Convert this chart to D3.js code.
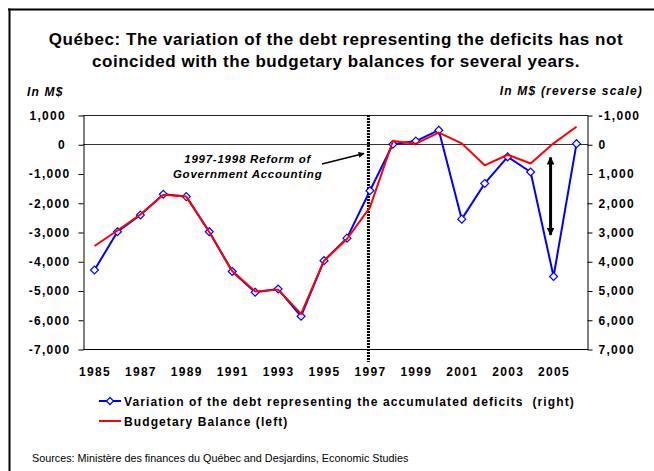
<!DOCTYPE html>
<html>
<head>
<meta charset="utf-8">
<script src="https://cdn.jsdelivr.net/npm/d3@7"></script>
<style>
  html, body { margin: 0; padding: 0; background: #fff; }
  svg { display: block; font-family: Arial, "Liberation Sans", sans-serif; }
</style>
</head>
<body>
<svg id="chart" width="654" height="471"></svg>
<script>
// ---- Data ----
const years = [1985,1986,1987,1988,1989,1990,1991,1992,1993,1994,1995,1996,1997,1998,1999,2000,2001,2002,2003,2004,2005,2006];
// Variation of the debt representing the accumulated deficits (right axis, reverse scale), M$
const debtVariation = [4300,2990,2420,1710,1790,2990,4350,5060,4950,5880,3980,3210,1590,0,-110,-480,2560,1340,430,950,4520,-20];
// Budgetary balance (left axis), M$
const budgetBalance = [-3480,-2950,-2400,-1730,-1790,-3000,-4330,-5030,-4970,-5800,-3980,-3240,-2160,110,20,400,30,-720,-360,-660,30,600];
const leftTicks = [1000,0,-1000,-2000,-3000,-4000,-5000,-6000,-7000];
const rightTicks = [-1000,0,1000,2000,3000,4000,5000,6000,7000];
const xTickYears = [1985,1987,1989,1991,1993,1995,1997,1999,2001,2003,2005];
const titleLines = ["Québec: The variation of the debt representing the deficits has not",
                    "coincided with the budgetary balances for several years."];
const legendLabels = ["Variation of the debt representing the accumulated deficits  (right)",
                      "Budgetary Balance (left)"];
const annotationLines = ["1997-1998 Reform of", "Government Accounting"];
const sourceText = "Sources: Ministère des finances du Québec and Desjardins, Economic Studies";

// ---- Layout ----
const svg = d3.select("#chart");
const plot = {left: 83, right: 588, top: 115, bottom: 349};
const blue = "#0000FF", red = "#FF0000";
const fmt = v => d3.format(",")(v).replace("\u2212", "-");
const ls = "1.3px";

const x = d3.scalePoint().domain(years).range([plot.left, plot.right]).padding(0.5);
const yL = d3.scaleLinear().domain([-7000, 1000]).range([plot.bottom, plot.top]);
const yR = d3.scaleLinear().domain([7000, -1000]).range([plot.bottom, plot.top]);

// frame
svg.append("line").attr("x1", 8).attr("x2", 654).attr("y1", 9.5).attr("y2", 9.5)
  .attr("stroke", "#000").attr("stroke-width", 2);
svg.append("line").attr("x1", 9.5).attr("x2", 9.5).attr("y1", 8.5).attr("y2", 471)
  .attr("stroke", "#000").attr("stroke-width", 2);

// title
svg.append("g").selectAll("text").data(titleLines).join("text")
  .attr("x", 336).attr("y", (d, i) => 45 + i * 21.5)
  .attr("text-anchor", "middle").attr("font-size", 17).attr("font-weight", "bold")
  .attr("letter-spacing", "0.55px")
  .text(d => d);

// axis unit labels
svg.append("text").attr("x", 27).attr("y", 96).attr("font-size", 12)
  .attr("font-weight", "bold").attr("font-style", "italic").attr("letter-spacing", "1.2px").text("In M$");
svg.append("text").attr("x", 643).attr("y", 95).attr("text-anchor", "end").attr("font-size", 12)
  .attr("font-weight", "bold").attr("font-style", "italic").attr("letter-spacing", "1.2px").text("In M$ (reverse scale)");

// plot top / bottom borders
svg.append("line").attr("x1", plot.left).attr("x2", plot.right).attr("y1", plot.top + 0.5).attr("y2", plot.top + 0.5)
  .attr("stroke", "#222").attr("stroke-width", 1);
svg.append("line").attr("x1", plot.left).attr("x2", plot.right).attr("y1", plot.bottom + 0.5).attr("y2", plot.bottom + 0.5)
  .attr("stroke", "#000").attr("stroke-width", 1);
// zero line
svg.append("line").attr("x1", plot.left).attr("x2", plot.right)
  .attr("y1", Math.round(yL(0)) + 0.5).attr("y2", Math.round(yL(0)) + 0.5)
  .attr("stroke", "#333").attr("stroke-width", 1);

// left axis
const gL = svg.append("g").attr("transform", `translate(${plot.left + 0.5},0.5)`)
  .call(d3.axisLeft(yL).tickValues(leftTicks).tickSize(5).tickSizeOuter(0).tickPadding(8).tickFormat(fmt));
gL.selectAll("text").attr("font-size", 12).attr("font-weight", "bold").attr("fill", "#000")
  .attr("font-family", "Arial, 'Liberation Sans', sans-serif").attr("letter-spacing", ls)
  .attr("dx", d => d >= 0 ? -4.5 : 0);
gL.selectAll("path, line").attr("stroke", "#000");

// right axis
const gR = svg.append("g").attr("transform", `translate(${plot.right - 0.5},0.5)`)
  .call(d3.axisRight(yR).tickValues(rightTicks).tickSize(5).tickSizeOuter(0).tickPadding(6).tickFormat(fmt));
gR.selectAll("text").attr("font-size", 12).attr("font-weight", "bold").attr("fill", "#000")
  .attr("font-family", "Arial, 'Liberation Sans', sans-serif").attr("letter-spacing", ls);
gR.selectAll("path, line").attr("stroke", "#000");

// bottom axis labels
const gX = svg.append("g").attr("transform", `translate(0,${plot.bottom})`)
  .call(d3.axisBottom(x).tickValues(xTickYears).tickSize(0).tickPadding(18));
gX.select(".domain").remove();
gX.selectAll("text").attr("font-size", 12).attr("font-weight", "bold").attr("fill", "#000")
  .attr("font-family", "Arial, 'Liberation Sans', sans-serif").attr("letter-spacing", ls);

// reform vertical dotted line
svg.append("line").attr("x1", x(1997) - 1.5).attr("x2", x(1997) - 1.5)
  .attr("y1", plot.top).attr("y2", 362)
  .attr("stroke", "#000").attr("stroke-width", 3).attr("stroke-dasharray", "2,1");

// markers
const defs = svg.append("defs");
defs.append("marker").attr("id", "ah").attr("viewBox", "0 0 10 10").attr("refX", 9).attr("refY", 5)
  .attr("markerWidth", 4).attr("markerHeight", 4).attr("orient", "auto-start-reverse")
  .attr("markerUnits", "strokeWidth")
  .append("path").attr("d", "M0,0 L10,5 L0,10 z").attr("fill", "#000");
defs.append("marker").attr("id", "ah2").attr("viewBox", "0 0 10 10").attr("refX", 9).attr("refY", 5)
  .attr("markerWidth", 3).attr("markerHeight", 2.6).attr("orient", "auto-start-reverse")
  .attr("markerUnits", "strokeWidth")
  .append("path").attr("d", "M0,0 L10,5 L0,10 z").attr("fill", "#000");

// annotation text
svg.append("g").selectAll("text").data(annotationLines).join("text")
  .attr("x", x(1992) - 7.5).attr("y", (d, i) => 163 + i * 15)
  .attr("text-anchor", "middle").attr("font-size", 11.5).attr("font-weight", "bold").attr("font-style", "italic")
  .attr("letter-spacing", "0.75px")
  .text(d => d);
svg.append("line").attr("x1", 322).attr("y1", 164).attr("x2", x(1997) - 6).attr("y2", 153.5)
  .attr("stroke", "#000").attr("stroke-width", 1.5).attr("marker-end", "url(#ah)");

// lines
const line = (yScale) => d3.line().x((d, i) => x(years[i])).y(d => yScale(d));
svg.append("path").datum(debtVariation).attr("d", line(yR))
  .attr("fill", "none").attr("stroke", blue).attr("stroke-width", 2).attr("stroke-linejoin", "round");
svg.append("g").selectAll("path").data(debtVariation).join("path")
  .attr("d", d3.symbol(d3.symbolDiamond2, 40)())
  .attr("transform", (d, i) => `translate(${x(years[i])},${yR(d)})`)
  .attr("fill", "#fff").attr("stroke", blue).attr("stroke-width", 1.2);
svg.append("path").datum(budgetBalance).attr("d", line(yL))
  .attr("fill", "none").attr("stroke", red).attr("stroke-width", 2).attr("stroke-linejoin", "round");

// double-headed gap arrow
svg.append("line").attr("x1", x(2005) - 3).attr("x2", x(2005) - 3)
  .attr("y1", yR(450)).attr("y2", yR(3100))
  .attr("stroke", "#000").attr("stroke-width", 3)
  .attr("marker-start", "url(#ah2)").attr("marker-end", "url(#ah2)");

// legend
const lg = svg.append("g");
const legendColors = [blue, red];
legendLabels.forEach((lab, i) => {
  const yy = 401 + i * 20;
  lg.append("line").attr("x1", 99).attr("x2", 121).attr("y1", yy).attr("y2", yy)
    .attr("stroke", legendColors[i]).attr("stroke-width", 2);
  if (i === 0) {
    lg.append("path").attr("d", d3.symbol(d3.symbolDiamond2, 32)())
      .attr("transform", `translate(110,${yy})`).attr("fill", "#fff").attr("stroke", blue).attr("stroke-width", 1.2);
  }
  lg.append("text").attr("x", 124).attr("y", yy + 5).attr("font-size", 12).attr("font-weight", "bold")
    .attr("letter-spacing", "1.1px").style("white-space", "pre").text(lab);
});

// source
svg.append("text").attr("x", 32).attr("y", 462).attr("font-size", 10.8).attr("fill", "#000")
  .text(sourceText);
</script>
</body>
</html>
